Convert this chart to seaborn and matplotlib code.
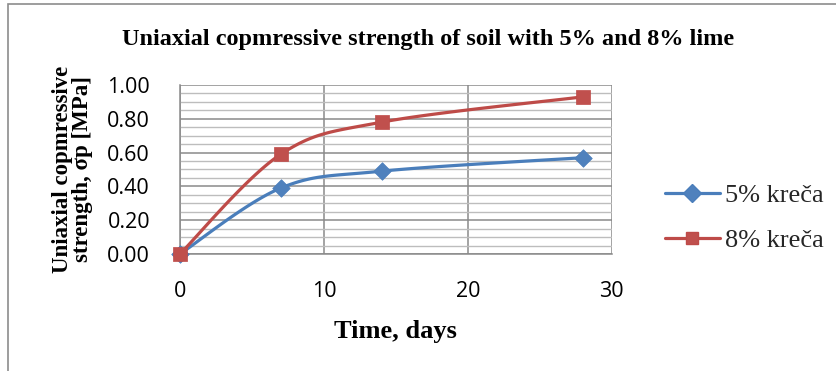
import numpy as np
import pandas as pd
import seaborn as sns
import matplotlib
matplotlib.use("Agg")
import matplotlib.pyplot as plt
from matplotlib.lines import Line2D
from matplotlib.patches import Rectangle

# Measured strength over curing time
days = [0, 7, 14, 28]
lime_5 = [0.00, 0.39, 0.49, 0.57]
lime_8 = [0.00, 0.59, 0.78, 0.93]
series_labels = ["5% kreča", "8% kreča"]
y_ticks = [0.0, 0.2, 0.4, 0.6, 0.8, 1.0]
x_ticks = [0, 10, 20, 30]

BLUE = "#4A7EBB"
BLUE_FILL = "#4F81BD"
RED = "#BE4B48"
RED_FILL = "#C0504D"


def smooth(xs, ys, sx=14.4, sy=169.0, n=40):
    """Catmull-Rom style Bezier smoothing (like spreadsheet 'smoothed line')."""
    p = np.column_stack([np.asarray(xs, float) * sx, np.asarray(ys, float) * sy])
    pts = np.vstack([p[0], p, p[-1]])
    out = []
    t = np.linspace(0, 1, n)[:, None]
    for i in range(1, len(pts) - 2):
        p0, p1, p2, p3 = pts[i - 1], pts[i], pts[i + 1], pts[i + 2]
        c1 = p1 + (p2 - p0) / 6.0
        c2 = p2 - (p3 - p1) / 6.0
        seg = ((1 - t) ** 3) * p1 + 3 * ((1 - t) ** 2) * t * c1 + 3 * (1 - t) * t ** 2 * c2 + t ** 3 * p2
        out.append(seg if i == 1 else seg[1:])
    out = np.vstack(out)
    return out[:, 0] / sx, out[:, 1] / sy


sns.set_theme(style="white")
plt.rcParams["font.family"] = ["DejaVu Sans"]

fig = plt.figure(figsize=(8.37, 3.71), dpi=100)
ax = fig.add_axes([0.215, 0.3154, 0.516, 0.4555])

# outer chart border
fig.patches.append(Rectangle((0.0095, -0.05), 1.2, 1.04, transform=fig.transFigure,
                             fill=False, edgecolor="#8C8C8C", linewidth=1.2, zorder=0))

curves = []
for lab, vals in zip(series_labels, [lime_5, lime_8]):
    cx, cy = smooth(days, vals)
    curves.append(pd.DataFrame({"day": cx, "val": cy, "series": lab}))
curve_df = pd.concat(curves, ignore_index=True)
pts_df = pd.DataFrame({
    "day": days + days,
    "val": lime_5 + lime_8,
    "series": [series_labels[0]] * len(days) + [series_labels[1]] * len(days),
})

palette = {series_labels[0]: BLUE, series_labels[1]: RED}
sns.lineplot(data=curve_df, x="day", y="val", hue="series", palette=palette,
             linewidth=2.3, sort=False, estimator=None, legend=False, ax=ax,
             zorder=4, clip_on=False)
sns.scatterplot(data=pts_df[pts_df.series == series_labels[0]], x="day", y="val",
                color=BLUE_FILL, marker="D", s=80, edgecolor=BLUE, linewidth=0.5,
                legend=False, ax=ax, zorder=5, clip_on=False)
sns.scatterplot(data=pts_df[pts_df.series == series_labels[1]], x="day", y="val",
                color=RED_FILL, marker="s", s=105, edgecolor=RED, linewidth=0.5,
                legend=False, ax=ax, zorder=6, clip_on=False)

ax.set_xlim(0, 30)
ax.set_ylim(0, 1.0)
ax.set_xticks(x_ticks)
ax.set_yticks(y_ticks)
ax.set_yticks(np.arange(0, 1.0001, 0.05), minor=True)
ax.set_yticklabels([f"{v:.2f}" for v in y_ticks])
ax.set_xticklabels([str(v) for v in x_ticks])

ax.grid(which="major", axis="both", color="#8A8A8A", linewidth=1.1, zorder=1)
ax.grid(which="minor", axis="y", color="#BDBDBD", linewidth=1.0, zorder=1)
ax.set_axisbelow(True)
for side in ["top", "right"]:
    ax.spines[side].set_visible(False)
for side in ["left", "bottom"]:
    ax.spines[side].set_color("#8A8A8A")
    ax.spines[side].set_linewidth(1.1)

ax.tick_params(axis="both", which="major", direction="out", length=4.5, width=1.1,
               color="#8A8A8A", labelsize=15.5)
ax.tick_params(axis="y", which="minor", left=False)
ax.tick_params(axis="x", pad=15)
ax.tick_params(axis="y", pad=17)
for lbl in ax.get_xticklabels() + ax.get_yticklabels():
    lbl.set_fontfamily("Open Sans")
    lbl.set_color("black")

ax.set_xlabel("Time, days", fontfamily="Liberation Serif", fontweight="bold",
              fontsize=19, labelpad=13, color="black")
ax.set_ylabel("Uniaxial copmressive\nstrength, σp [MPa]", fontfamily="Liberation Serif",
              fontweight="bold", fontsize=16.5, labelpad=10, color="black", linespacing=0.95)

fig.text(0.512, 0.893, "Uniaxial copmressive strength of soil with 5% and 8% lime",
         ha="center", va="center", fontfamily="Liberation Serif", fontweight="bold",
         fontsize=17.5, color="black")

handles = [
    Line2D([], [], color=BLUE, lw=2.3, marker="D", markersize=9,
           markerfacecolor=BLUE_FILL, markeredgecolor=BLUE),
    Line2D([], [], color=RED, lw=2.3, marker="s", markersize=9,
           markerfacecolor=RED_FILL, markeredgecolor=RED),
]
leg = fig.legend(handles, series_labels, loc="center left", bbox_to_anchor=(0.794, 0.413),
                 frameon=False, prop={"family": "Liberation Serif", "size": 19},
                 handlelength=2.1, handletextpad=0.2, labelspacing=0.82, borderpad=0,
                 borderaxespad=0)

fig.savefig("out.png", dpi=100)
